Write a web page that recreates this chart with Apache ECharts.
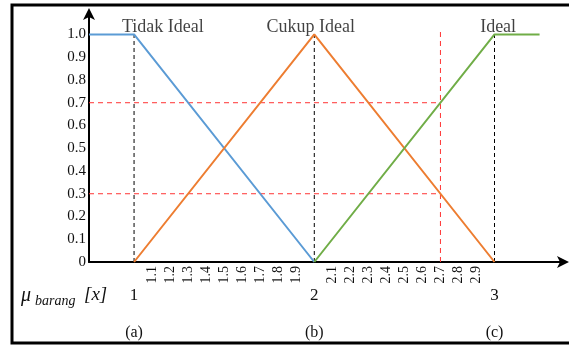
<!DOCTYPE html>
<html><head><meta charset="utf-8">
<script src="https://cdn.jsdelivr.net/npm/echarts@6/dist/echarts.min.js"></script>
<style>html,body{margin:0;padding:0;background:#fff}#c{width:569px;height:348px}</style>
</head><body><div id="c"></div>
<script>
// ---- data ----
const yTicks = [0, 0.1, 0.2, 0.3, 0.4, 0.5, 0.6, 0.7, 0.8, 0.9, 1.0];
const xMinorTicks = [1.1, 1.2, 1.3, 1.4, 1.5, 1.6, 1.7, 1.8, 1.9, 2.1, 2.2, 2.3, 2.4, 2.5, 2.6, 2.7, 2.8, 2.9];
const xMajorTicks = [1, 2, 3];
const panelLabels = ['(a)', '(b)', '(c)'];
const tidakIdeal = [[0.75, 1], [1, 1], [2, 0]];
const cukupIdeal = [[1, 0], [2, 1], [3, 0]];
const ideal = [[2, 0], [3, 1], [3.25, 1]];
const setNames = ['Tidak Ideal', 'Cukup Ideal', 'Ideal'];
const setNamePos = [[1.16, 1.0], [1.98, 1.0], [3.02, 1.0]];
const cutLevels = [0.7, 0.3];
const cutX = 2.7;
const cutXTop = 1.02;

const serif = 'Liberation Serif';
const chart = echarts.init(document.getElementById('c'), null, {renderer: 'canvas'});
const xMin = 0.75, xMax = 3.38;
const baseX = {type: 'value', min: xMin, max: xMax, position: 'bottom', splitLine: {show: false}, axisTick: {show: false}};

const refLines = [];
xMajorTicks.forEach(v => refLines.push({
  type: 'line', data: [[v, 0], [v, 1]], symbol: 'none', silent: true, z: 1,
  lineStyle: {color: '#000', width: 1, type: [4, 3]}
}));
cutLevels.forEach(a => refLines.push({
  type: 'line', data: [[xMin, a], [cutX, a]], symbol: 'none', silent: true, z: 1,
  lineStyle: {color: '#f33', width: 1, type: [5, 4]}
}));
refLines.push({
  type: 'line', data: [[cutX, 0], [cutX, cutXTop]], symbol: 'none', silent: true, z: 1,
  lineStyle: {color: '#f33', width: 1, type: [5, 4]}
});

chart.setOption({
  animation: false,
  grid: {left: 89, right: 6, top: 14, bottom: 86, containLabel: false},
  xAxis: [
    Object.assign({}, baseX, {
      axisLine: {show: true, lineStyle: {color: '#000', width: 2}, symbol: ['none', 'arrow'], symbolSize: [9, 12], symbolOffset: [0, 6]},
      axisLabel: {customValues: xMinorTicks, rotate: 90, margin: 4, fontFamily: serif, fontSize: 14, color: '#111',
        formatter: v => v.toFixed(1)}
    }),
    Object.assign({}, baseX, {
      axisLine: {show: false},
      axisLabel: {customValues: xMajorTicks, margin: 25, fontFamily: serif, fontSize: 17, color: '#111',
        formatter: v => String(Math.round(v))}
    }),
    Object.assign({}, baseX, {
      axisLine: {show: false},
      axisLabel: {customValues: xMajorTicks, margin: 63, fontFamily: serif, fontSize: 16, color: '#111',
        formatter: v => panelLabels[xMajorTicks.indexOf(Math.round(v))]}
    })
  ],
  yAxis: {
    type: 'value', min: 0, max: 1.09, splitLine: {show: false},
    axisLine: {show: true, lineStyle: {color: '#000', width: 2}, symbol: ['none', 'arrow'], symbolSize: [9, 12], symbolOffset: [0, 6]},
    axisTick: {show: false},
    axisLabel: {customValues: yTicks, margin: 3, fontFamily: serif, fontSize: 15, color: '#111',
      formatter: v => v === 0 ? '0' : v.toFixed(1)}
  },
  series: refLines.concat([
    {type: 'line', data: tidakIdeal, symbol: 'none', lineStyle: {color: '#5B9BD5', width: 2}, z: 3},
    {type: 'line', data: cukupIdeal, symbol: 'none', lineStyle: {color: '#ED7D31', width: 2}, z: 3},
    {type: 'line', data: ideal, symbol: 'none', lineStyle: {color: '#70AD47', width: 2}, z: 3},
    {type: 'scatter', symbolSize: 0, z: 5,
      data: setNamePos.map((p, i) => ({value: p, name: setNames[i]})),
      label: {show: true, position: 'inside', offset: [0, -7], formatter: p => p.name,
        fontFamily: serif, fontSize: 18, color: '#111'}}
  ]),
  graphic: [
    {type: 'rect', shape: {x: 12, y: 5, width: 620, height: 338}, style: {fill: 'none', stroke: '#000', lineWidth: 3}, z: 10},
    {type: 'text', x: 21, y: 296, style: {text: 'μ', font: 'italic 20px "Liberation Serif"', fill: '#111', verticalAlign: 'middle'}},
    {type: 'text', x: 35, y: 301, style: {text: 'barang', font: 'italic 14px "Liberation Serif"', fill: '#111', verticalAlign: 'middle'}},
    {type: 'text', x: 84, y: 295, style: {text: '[x]', font: 'italic 19px "Liberation Serif"', fill: '#111', verticalAlign: 'middle'}}
  ]
});
</script></body></html>
